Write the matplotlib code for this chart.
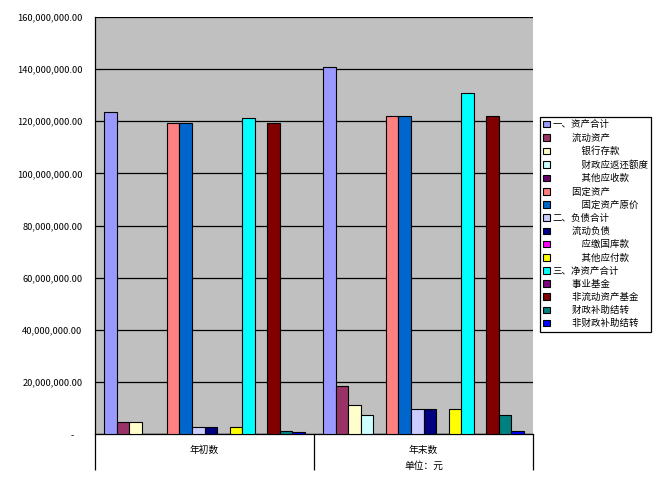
import numpy as np
import matplotlib
matplotlib.use('Agg')
import matplotlib.pyplot as plt
from matplotlib.ticker import FuncFormatter, FixedLocator
import matplotlib.transforms as mtransforms

plt.rcParams['font.family'] = ['Noto Sans CJK SC', 'DejaVu Sans']

# ---------------------------------------------------------
# DATA
categories = ['年初数', '年末数']
unit_label = '单位：元'

series_names = ['一、资产合计', '流动资产', '银行存款', '财政应返还额度', '其他应收款',
                '固定资产', '固定资产原价', '二、负债合计', '流动负债', '应缴国库款',
                '其他应付款', '三、净资产合计', '事业基金', '非流动资产基金',
                '财政补助结转', '非财政补助结转']
indent_level = [0, 1, 2, 2, 2, 1, 2, 0, 1, 2, 2, 0, 1, 1, 1, 1]

start_values = [123.7e6, 4.5e6, 4.5e6, 0, 0, 119.5e6, 119.5e6, 2.6e6, 2.6e6, 0,
                2.6e6, 121.4e6, 0, 119.5e6, 1.15e6, 0.7e6]
end_values = [140.7e6, 18.3e6, 11.0e6, 7.2e6, 0, 122.2e6, 122.2e6, 9.7e6, 9.7e6, 0,
              9.5e6, 130.7e6, 0, 122.2e6, 7.2e6, 1.15e6]

colors = ['#9999FF', '#993366', '#FFFFCC', '#CCFFFF', '#660066', '#FF8080', '#0066CC',
          '#CCCCFF', '#000080', '#FF00FF', '#FFFF00', '#00FFFF', '#800080', '#800000',
          '#008080', '#0000FF']

# ---------------------------------------------------------
# FIGURE
fig = plt.figure(figsize=(6.57, 4.83), dpi=100)
ax = fig.add_axes([95/657, 1-434/483, (533-95)/657, (434-17)/483])
ax.set_facecolor('#C0C0C0')

n = len(series_names)
w = 1.0/(n + 1.5)
cat_x = np.arange(len(categories))
for i in range(n):
    xs = cat_x - 0.5 + 0.75*w + (i + 0.5)*w
    vals = [start_values[i], end_values[i]]
    label = '\u3000'*(indent_level[i] + 1) + series_names[i] if indent_level[i] else series_names[i]
    ax.bar(xs, vals, width=w, color=colors[i], edgecolor='black', linewidth=0.8,
           label=label, zorder=3)

ax.set_xlim(-0.5, 1.5)
ax.set_ylim(0, 160e6)
ax.set_yticks(np.arange(0, 160e6 + 1, 20e6))
ax.yaxis.set_major_formatter(FuncFormatter(
    lambda v, p: '-    ' if v == 0 else f'{v:,.2f}'))
ax.grid(axis='y', color='black', linewidth=0.9, zorder=1)
ax.set_axisbelow(True)
ax.tick_params(axis='y', length=0, pad=9, labelsize=6.7)

# category separators and labels
ax.xaxis.set_major_locator(FixedLocator([-0.5, 0.5, 1.5]))
ax.xaxis.set_major_formatter(FuncFormatter(lambda v, p: ''))
ax.xaxis.set_minor_locator(FixedLocator(cat_x))
ax.set_xticklabels(categories, minor=True)
ax.tick_params(axis='x', which='major', length=26, width=0.9, color='black')
ax.tick_params(axis='x', which='minor', length=0, pad=8, labelsize=7)

trans = mtransforms.blended_transform_factory(ax.transData, ax.transAxes)
ax.text(1, -0.077, unit_label, transform=trans, ha='center', va='center', fontsize=7)

for s in ['top', 'right']:
    ax.spines[s].set_visible(False)
for s in ['left', 'bottom']:
    ax.spines[s].set_color('black')
    ax.spines[s].set_linewidth(0.9)

leg = ax.legend(loc='upper left', bbox_to_anchor=(540/657, 1-117/483),
                bbox_transform=fig.transFigure, borderaxespad=0, fontsize=6.8,
                frameon=True, fancybox=False, edgecolor='black', framealpha=1,
                handlelength=0.7, handleheight=0.7, handletextpad=0.3,
                labelspacing=0.43, borderpad=0.35)
leg.get_frame().set_linewidth(0.9)

fig.savefig('out.png', dpi=100)
